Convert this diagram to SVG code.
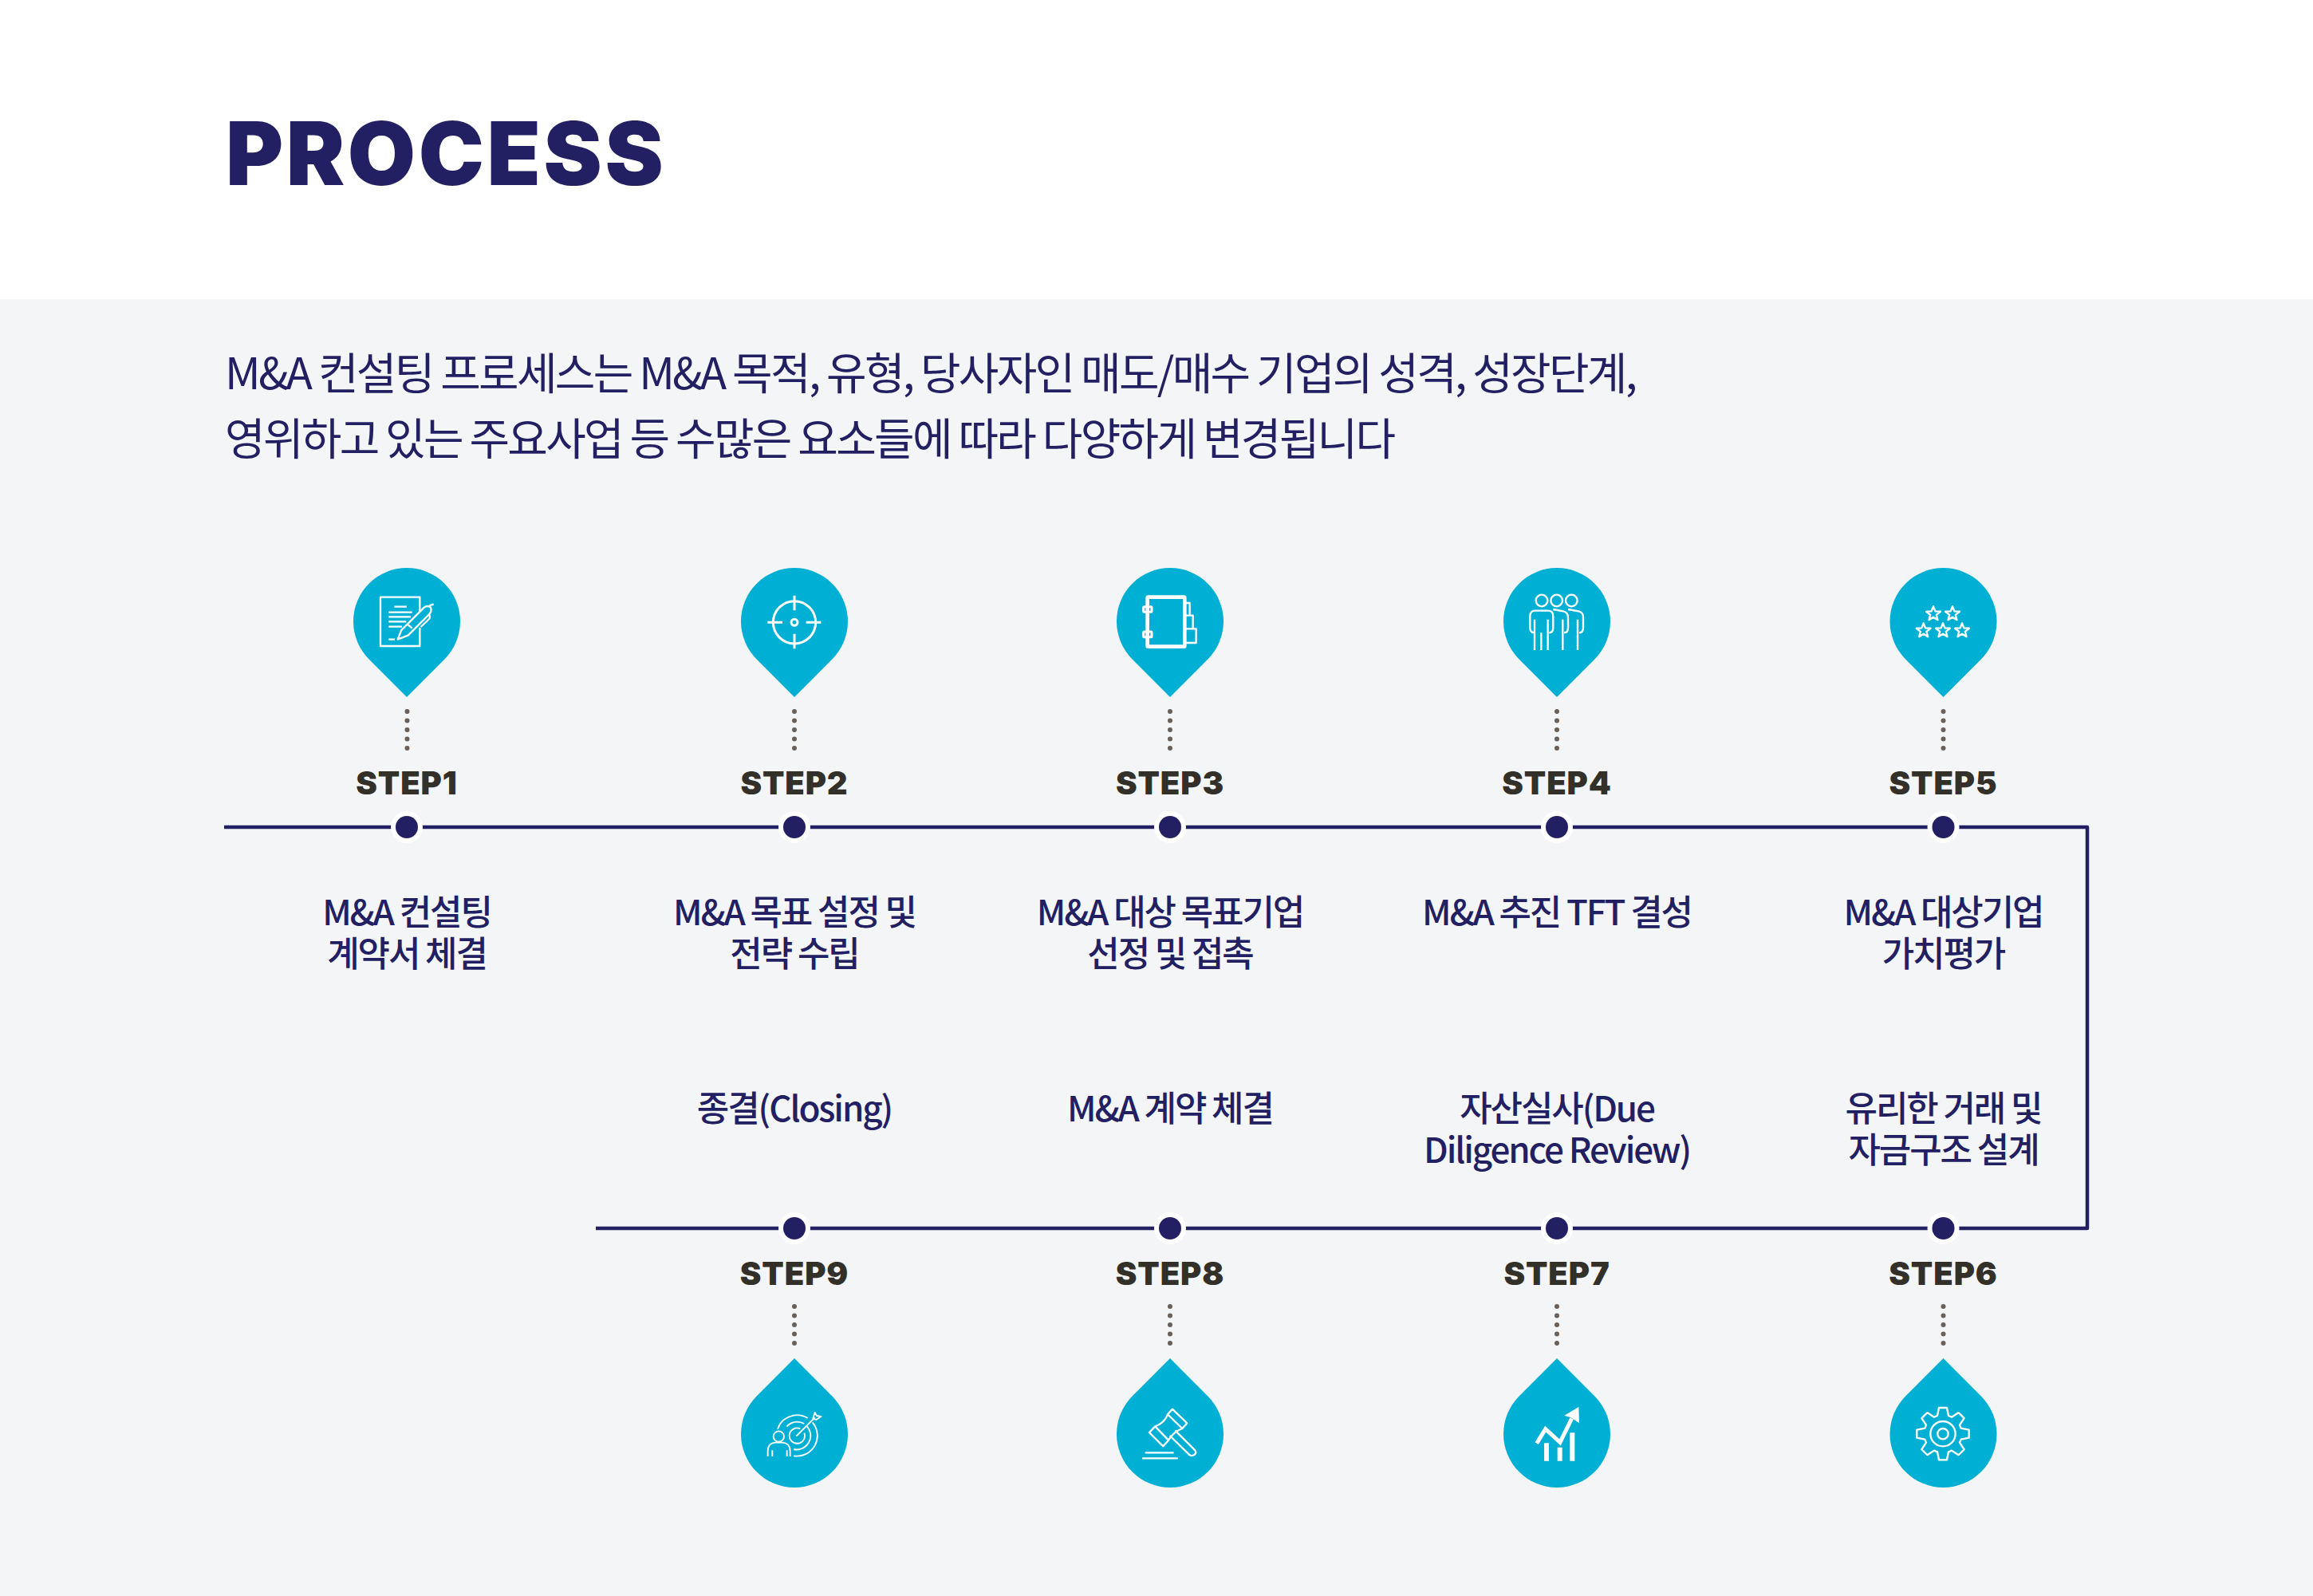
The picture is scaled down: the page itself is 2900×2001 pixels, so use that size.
<svg xmlns="http://www.w3.org/2000/svg" xmlns:xlink="http://www.w3.org/1999/xlink" width="2900" height="2001" viewBox="0 0 2900 2001">
<style>
text{font-family:"Noto Sans CJK KR","Noto Sans",sans-serif;fill:#231f63}
.title{font-family:Inter,"Liberation Sans",sans-serif;font-weight:900;font-size:110px;letter-spacing:3.6px}
.sub{font-size:55px;letter-spacing:-2.72px;font-weight:400}
.lab{font-size:44px;font-weight:500;letter-spacing:-2.1px;text-anchor:middle}
.step{font-family:Inter,"Liberation Sans",sans-serif;font-weight:900;font-size:40px;fill:#333029;text-anchor:middle;letter-spacing:.9px}
.pin{fill:#00b0d4}
.dots{fill:none;stroke:#6b6058;stroke-width:6;stroke-linecap:round;stroke-dasharray:0 11.5}
.ring{fill:#fff}.dot{fill:#231f63}
.conn{fill:none;stroke:#231f63;stroke-width:4.5;stroke-linejoin:round}
.ic{fill:none;stroke:#fff;stroke-width:7;stroke-linejoin:round}
.icf{fill:#fff;stroke:none}
</style>
<defs>
<path id="pinT" d="M0 95L-47.4 47.4A67 67 0 1 1 47.4 47.4Z"/>
<path id="pinB" d="M0 -95L-47.4 -47.4A67 67 0 1 0 47.4 -47.4Z"/>
<path id="star" d="M0 -28L7.1 -9.7 26.6 -8.7 11.4 3.7 16.5 22.7 0 12 -16.5 22.7 -11.4 3.7 -26.6 -8.7 -7.1 -9.7Z"/>
</defs>
<rect width="2900" height="2001" fill="#fff"/>
<rect y="375" width="2900" height="1626" fill="#f4f5f7"/>
<text class="title" x="283" y="232">PROCESS</text>
<text class="sub"><tspan x="282" y="488">M&amp;A 컨설팅 프로세스는 M&amp;A 목적, 유형, 당사자인 매도/매수 기업의 성격, 성장단계,</tspan><tspan x="282" y="570">영위하고 있는 주요사업 등 수많은 요소들에 따라 다양하게 변경됩니다</tspan></text>

<g id="connectors">
<path class="conn" d="M281 1037H2617V1540H747"/>
<path class="dots" d="M510.500 892V940M996 892V940M1467 892V940M1952 892V940M2436.500 892V940M996 1638V1690M1467 1638V1690M1952 1638V1690M2436.500 1638V1690"/>
</g>

<g id="step1">
<use href="#pinT" class="pin" x="510" y="779"/>
<g class="ic" transform="translate(400 690) scale(.3333)">
<path d="M379 232V176H231V360H379V290"/>
<path d="M283 212H330M262 233H350M262 250H345M262 268H328M262 287H312M262 335H285"/>
<path d="M296 335L310 300 395 215Q408 205 420 215 425 230 415 240L335 320Z"/>
<path d="M335 280L350 293M415 208L431 202M414 243Q420 250 414 258L383 288"/>
</g>
<text class="step" x="510" y="996">STEP1</text>
<circle class="ring" cx="510" cy="1037" r="20"/><circle class="dot" cx="510" cy="1037" r="14"/>
<text class="lab"><tspan x="510" y="1160">M&amp;A 컨설팅</tspan><tspan x="510" y="1212">계약서 체결</tspan></text>
</g>

<g id="step2">
<use href="#pinT" class="pin" x="996" y="779"/>
<g class="ic" transform="translate(900 700) scale(.3333)" style="stroke-width:9">
<circle cx="288" cy="241" r="80"/><circle cx="288" cy="241" r="12"/>
<path d="M187 241H243M332 241H388M288 140V196M288 284V340"/>
</g>
<text class="step" x="996" y="996">STEP2</text>
<circle class="ring" cx="996" cy="1037" r="20"/><circle class="dot" cx="996" cy="1037" r="14"/>
<text class="lab"><tspan x="996" y="1160">M&amp;A 목표 설정 및</tspan><tspan x="996" y="1212">전략 수립</tspan></text>
</g>

<g id="step3">
<use href="#pinT" class="pin" x="1467" y="779"/>
<g class="ic" transform="translate(1370 700) scale(.3333)">
<rect x="206" y="146" width="140" height="186" rx="3" style="stroke-width:14"/>
<rect x="191" y="182" width="31" height="20" rx="3" style="stroke-width:9"/><rect x="191" y="276" width="31" height="20" rx="3" style="stroke-width:9"/>
<path d="M346 168H365V215M346 215H377V265M346 265H389V318H346"/>
</g>
<text class="step" x="1467" y="996">STEP3</text>
<circle class="ring" cx="1467" cy="1037" r="20"/><circle class="dot" cx="1467" cy="1037" r="14"/>
<text class="lab"><tspan x="1467" y="1160">M&amp;A 대상 목표기업</tspan><tspan x="1467" y="1212">선정 및 접촉</tspan></text>
</g>

<g id="step4">
<use href="#pinT" class="pin" x="1952" y="779"/>
<g class="ic" transform="translate(1850 700) scale(.3333)">
<circle cx="249" cy="159" r="22"/><circle cx="305" cy="159" r="22"/><circle cx="361" cy="159" r="22"/>
<path d="M222 345V230M222 280Q205 280 205 262V218Q205 197 225 197H272Q292 197 292 218V262Q292 280 277 280M272 345V230M247 345V280"/>
<path d="M292 192L330 199Q348 203 348 222V262Q348 280 333 280M328 345V230"/>
<path d="M348 192L388 199Q405 203 405 222V262Q405 280 390 280M384 345V230"/>
</g>
<text class="step" x="1952" y="996">STEP4</text>
<circle class="ring" cx="1952" cy="1037" r="20"/><circle class="dot" cx="1952" cy="1037" r="14"/>
<text class="lab" x="1952" y="1160">M&amp;A 추진 TFT 결성</text>
</g>

<g id="step5">
<use href="#pinT" class="pin" x="2436.500" y="779"/>
<g class="ic" transform="translate(2330 700) scale(.3333)">
<use href="#star" x="282" y="209"/><use href="#star" x="354" y="209"/>
<use href="#star" x="245" y="272"/><use href="#star" x="318" y="272"/><use href="#star" x="390" y="272"/>
</g>
<text class="step" x="2436.500" y="996">STEP5</text>
<circle class="ring" cx="2436.500" cy="1037" r="20"/><circle class="dot" cx="2436.500" cy="1037" r="14"/>
<text class="lab"><tspan x="2436.500" y="1160">M&amp;A 대상기업</tspan><tspan x="2436.500" y="1212">가치평가</tspan></text>
</g>

<g id="step6">
<use href="#pinB" class="pin" x="2436.500" y="1798"/>
<g class="ic" transform="translate(2330 1690) scale(.3333) translate(318 323)">
<path d="M-21 -68L-15 -98H15L21 -68 33.200 -62.900 58.700 -79.900 79.900 -58.700 62.900 -33.200 68 -21 98 -15V15L68 21 62.900 33.200 79.900 58.700 58.700 79.900 33.200 62.900 21 68 15 98H-15L-21 68 -33.200 62.900 -58.700 79.900 -79.900 58.700 -62.900 33.200 -68 21 -98 15V-15L-68 -21 -62.900 -33.200 -79.900 -58.700 -58.700 -79.900 -33.200 -62.900Z"/>
<circle r="47"/><circle r="20"/>
</g>
<text class="step" x="2436.500" y="1611">STEP6</text>
<circle class="ring" cx="2436.500" cy="1540" r="20"/><circle class="dot" cx="2436.500" cy="1540" r="14"/>
<text class="lab"><tspan x="2436.500" y="1406">유리한 거래 및</tspan><tspan x="2436.500" y="1458">자금구조 설계</tspan></text>
</g>

<g id="step7">
<use href="#pinB" class="pin" x="1952" y="1798"/>
<g transform="translate(1850 1690) scale(.3333)">
<path class="icf" d="M258 358H276V425H258ZM308 374H326V425H308ZM355 319H373V425H355ZM388 222L334 254 359 262 390 283Z"/>
<path class="ic" style="stroke-width:15;stroke-linejoin:miter" d="M230 359L263 305 318 355 362 265"/>
</g>
<text class="step" x="1952" y="1611">STEP7</text>
<circle class="ring" cx="1952" cy="1540" r="20"/><circle class="dot" cx="1952" cy="1540" r="14"/>
<text class="lab"><tspan x="1952" y="1406">자산실사(Due</tspan><tspan x="1952" y="1458">Diligence Review)</tspan></text>
</g>

<g id="step8">
<use href="#pinB" class="pin" x="1467" y="1798"/>
<g class="ic" transform="translate(1370 1690) scale(.3333)">
<path d="M300 230L355 283 337 303 282 250Q292 238 300 230ZM235 295L285 347 265 370 213 318Q224 306 235 295Z"/>
<path d="M282 250Q270 282 235 295M337 303Q305 314 285 347"/>
<path d="M310 310L385 385Q392 396 382 402 372 408 365 403L290 330"/>
<path d="M200 394H302M189 415H318" style="stroke-linecap:round"/>
</g>
<text class="step" x="1467" y="1611">STEP8</text>
<circle class="ring" cx="1467" cy="1540" r="20"/><circle class="dot" cx="1467" cy="1540" r="14"/>
<text class="lab" x="1467" y="1406">M&amp;A 계약 체결</text>
</g>

<g id="step9">
<use href="#pinB" class="pin" x="996" y="1798"/>
<g class="ic" transform="translate(900 1690) scale(.3333)" style="stroke-width:5.500">
<circle cx="229" cy="333" r="20"/>
<path d="M188 408V388Q188 358 216 356H243Q272 358 272 388V408M205 385V408M260 385V408"/>
<path d="M225 305A77 77 0 0 1 338 264M356 280A77 77 0 0 1 285 406M259 296A52 52 0 0 1 325 285M335 295A52 52 0 0 1 285 381M310 304A29 29 0 1 0 325 320"/>
<path d="M295 332L365 262M358 265L365 243 372 255 388 258 370 270Z"/>
</g>
<text class="step" x="996" y="1611">STEP9</text>
<circle class="ring" cx="996" cy="1540" r="20"/><circle class="dot" cx="996" cy="1540" r="14"/>
<text class="lab" x="996" y="1406">종결(Closing)</text>
</g>
</svg>
